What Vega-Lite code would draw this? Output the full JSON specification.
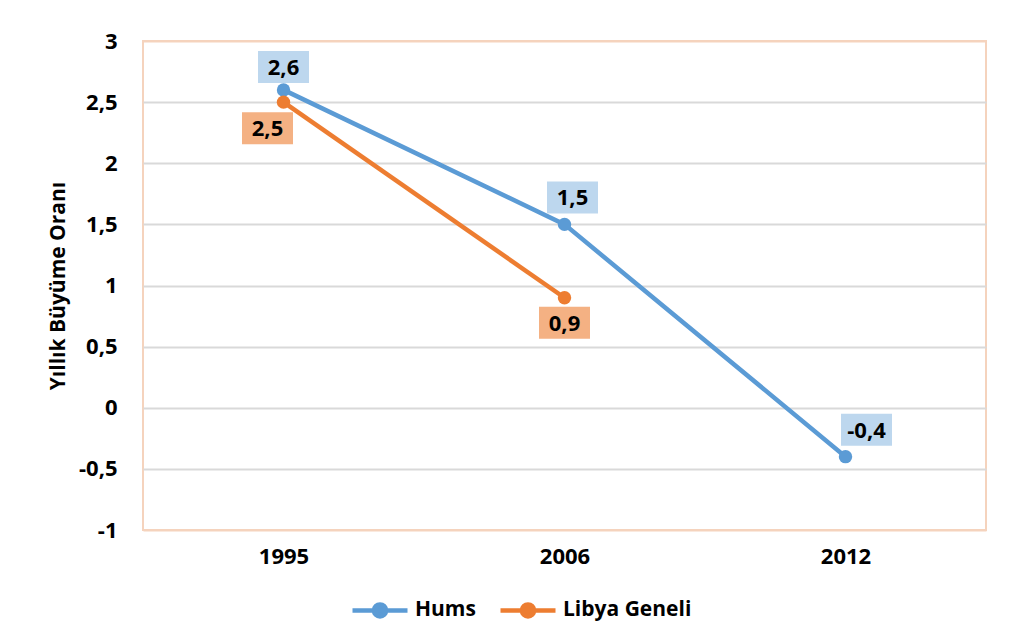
{
  "$schema": "https://vega.github.io/schema/vega-lite/v6.json",
  "width": 843,
  "height": 489,
  "autosize": "none",
  "padding": {"left": 143, "top": 41, "right": 24, "bottom": 105},
  "background": "white",
  "config": {
    "font": "Open Sans",
    "locale": {"number": {"decimal": ",", "thousands": ".", "grouping": [3], "currency": ["", " TL"], "minus": "-"}},
    "view": {"stroke": "#F5D3BD", "strokeWidth": 2},
    "axis": {"labelFont": "Open Sans", "labelFontWeight": "bold", "labelFontSize": 22, "labelColor": "#000", "titleFont": "Open Sans", "titleFontWeight": "bold", "titleFontSize": 21, "titleColor": "#000", "domain": false, "ticks": false}
  },
  "data": {
    "values": [
      {"year": "1995", "series": "Hums", "value": 2.6},
      {"year": "2006", "series": "Hums", "value": 1.5},
      {"year": "2012", "series": "Hums", "value": -0.4},
      {"year": "1995", "series": "Libya Geneli", "value": 2.5},
      {"year": "2006", "series": "Libya Geneli", "value": 0.9}
    ]
  },
  "encoding": {
    "x": {"field": "year", "type": "ordinal", "scale": {"type": "point", "padding": 0.5},
      "axis": {"title": null, "labelAngle": 0, "labelPadding": 16, "grid": false}},
    "y": {"field": "value", "type": "quantitative", "scale": {"domain": [-1, 3], "nice": false, "zero": false},
      "axis": {"title": "Yıllık Büyüme Oranı", "values": [-1, -0.5, 0, 0.5, 1, 1.5, 2, 2.5, 3], "format": ".1~f", "labelPadding": 26, "titlePadding": 10,
        "gridColor": {"condition": {"test": "datum.value == -1 || datum.value == 3", "value": "#F5D3BD"}, "value": "#D9D9D9"}, "gridWidth": 2}},
    "color": {"field": "series", "type": "nominal",
      "scale": {"domain": ["Hums", "Libya Geneli"], "range": ["#5B9BD5", "#ED7D31"]}}
  },
  "layer": [
    {
      "mark": {"type": "line", "strokeWidth": 4.5},
      "encoding": {
        "color": {"field": "series", "type": "nominal",
          "scale": {"domain": ["Hums", "Libya Geneli"], "range": ["#5B9BD5", "#ED7D31"]},
          "legend": {"title": null, "orient": "none", "direction": "horizontal", "legendX": 207, "legendY": 539,
            "labelFont": "Open Sans", "labelFontWeight": "bold", "labelFontSize": 21, "labelColor": "#000",
            "symbolType": "M-1,0H1M-0.22,0A0.22,0.22 0 1,0 0.22,0A0.22,0.22 0 1,0 -0.22,0",
            "symbolSize": 3025, "symbolStrokeWidth": 4.5, "labelOffset": 5, "columnPadding": 15,
            "encode": {"symbols": {"update": {"fill": {"scale": "color", "field": "value"}, "stroke": {"scale": "color", "field": "value"}}}}}
        }
      }
    },
    {
      "mark": {"type": "point", "filled": true, "size": 180, "opacity": 1},
      "encoding": {"color": {"field": "series", "type": "nominal", "legend": null}}
    },
    {
      "mark": {"type": "rect", "width": 51, "height": 32,
        "xOffset": {"expr": "datum.series == 'Hums' ? (datum.year == '1995' ? 0 : datum.year == '2006' ? 8 : 21) : (datum.year == '1995' ? -16 : 0)"},
        "yOffset": {"expr": "datum.series == 'Hums' ? (datum.year == '1995' ? -23 : -27) : (datum.year == '1995' ? 26 : 25)"}},
      "encoding": {
        "color": {"field": "series", "type": "nominal", "legend": null,
          "scale": {"domain": ["Hums", "Libya Geneli"], "range": ["#5B9BD5", "#ED7D31"]}},
        "fill": {"field": "series", "type": "nominal", "legend": null,
          "scale": {"domain": ["Hums", "Libya Geneli"], "range": ["#BDD7EE", "#F4B183"]}}
      }
    },
    {
      "mark": {"type": "text", "font": "Open Sans", "fontWeight": "bold", "fontSize": 22, "color": "#000", "baseline": "middle", "align": "center",
        "dx": {"expr": "datum.series == 'Hums' ? (datum.year == '1995' ? 0 : datum.year == '2006' ? 8 : 21) : (datum.year == '1995' ? -16 : 0)"},
        "dy": {"expr": "datum.series == 'Hums' ? (datum.year == '1995' ? -22 : -26) : (datum.year == '1995' ? 27 : 26)"}},
      "encoding": {
        "text": {"field": "value", "type": "quantitative", "format": ".1f"},
        "color": {"value": "#000"}
      }
    }
  ]
}
